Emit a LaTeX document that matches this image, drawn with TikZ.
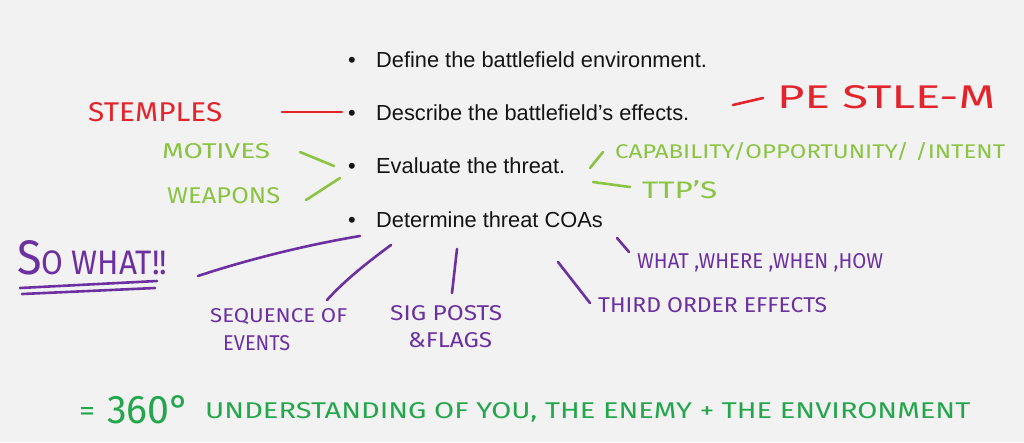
\documentclass[tikz,border=0pt]{standalone}
\usepackage{fontspec}
\usepackage{graphicx}
\setmainfont{Liberation Sans}
\newfontfamily\handfont{Fira Sans}
\definecolor{bg}{RGB}{242,242,242}
\definecolor{ink}{RGB}{20,20,20}
\definecolor{redink}{RGB}{226,36,44}
\definecolor{limeink}{RGB}{138,196,66}
\definecolor{purpink}{RGB}{108,48,160}
\definecolor{greenink}{RGB}{36,166,76}
\newcommand{\hw}[3]{\resizebox{#1pt}{#2pt}{\handfont\fontsize{20}{20}\selectfont #3}}
\tikzset{
  bullettext/.style={anchor=base west, inner sep=0pt, text=ink, font=\fontsize{21.8}{24}\selectfont},
  bulletdot/.style={anchor=base, inner sep=0pt, text=ink, font=\fontsize{21.8}{24}\selectfont},
  hand/.style={anchor=base west, inner sep=0pt},
  stroke/.style={line width=2.6pt, line cap=round, line join=round},
}
\begin{document}
\begin{tikzpicture}[x=1pt,y=-1pt]
\useasboundingbox (0,0) rectangle (1024,442);
\fill[bg] (0,0) rectangle (1024,442);

% bullet list
\node[bulletdot] (d1) at (352,67) {•};
\node[bullettext] (t1) at (376,67) {Define the battlefield environment.};
\node[bulletdot] (d2) at (352,120) {•};
\node[bullettext] (t2) at (376,120) {Describe the battlefield’s effects.};
\node[bulletdot] (d3) at (352,173) {•};
\node[bullettext] (t3) at (376,173) {Evaluate the threat.};
\node[bulletdot] (d4) at (352,227) {•};
\node[bullettext] (t4) at (376,227) {Determine threat COAs};

% red annotations
\node[hand, text=redink] (stemples) at (88,121) {\hw{134}{19}{STEMPLES}};
\node[hand, text=redink] (pestle) at (777,108) {\hw{218}{23}{PE STLE-M}};
\coordinate (r1a) at (282,112); \coordinate (r1b) at (342,112);
\draw[stroke, redink] (r1a) -- (r1b);
\coordinate (r2a) at (733,105); \coordinate (r2b) at (763,98);
\draw[stroke, redink] (r2a) -- (r2b);

% lime annotations
\node[hand, text=limeink] (motives) at (162,158) {\hw{108}{15}{MOTIVES}};
\node[hand, text=limeink] (weapons) at (167,203) {\hw{113}{16}{WEAPONS}};
\node[hand, text=limeink] (cap) at (615,158) {\hw{390}{16}{CAPABILITY/OPPORTUNITY/ /INTENT}};
\node[hand, text=limeink] (ttp) at (642,198) {\hw{75}{18}{TTP’S}};
\coordinate (g1a) at (300,152); \coordinate (g1b) at (334,166);
\draw[stroke, limeink] (g1a) -- (g1b);
\coordinate (g2a) at (306,200); \coordinate (g2b) at (340,178);
\draw[stroke, limeink] (g2a) -- (g2b);
\coordinate (g3a) at (590,168); \coordinate (g3b) at (603,152);
\draw[stroke, limeink] (g3a) -- (g3b);
\coordinate (g4a) at (593,182); \coordinate (g4b) at (630,187);
\draw[stroke, limeink] (g4a) -- (g4b);

% purple annotations
\node[hand, text=purpink] (sowhat) at (17,274) {\resizebox{150pt}{34pt}{\handfont{\fontsize{30}{30}\selectfont S}\fontsize{21}{21}\selectfont O WHAT!!}};
\coordinate (u1a) at (20,288); \coordinate (u1b) at (157,281);
\draw[stroke, purpink] (u1a) -- (u1b);
\coordinate (u2a) at (22,294); \coordinate (u2b) at (155,288);
\draw[stroke, purpink] (u2a) -- (u2b);
\coordinate (p1a) at (198,276); \coordinate (p1b) at (360,236);
\draw[stroke, purpink] (p1a) .. controls (240,262) and (300,246) .. (p1b);

\node[hand, text=purpink] (seq) at (210,322) {\hw{137}{14}{SEQUENCE OF}};
\node[hand, text=purpink] (events) at (223,350) {\hw{67}{15}{EVENTS}};
\coordinate (p2a) at (327,300); \coordinate (p2b) at (391,245);
\draw[stroke, purpink] (p2a) .. controls (345,280) and (368,262) .. (p2b);

\node[hand, text=purpink] (sig) at (390,320) {\hw{112}{15}{SIG POSTS}};
\node[hand, text=purpink] (flags) at (408,347) {\hw{84}{15}{\&FLAGS}};
\coordinate (p3a) at (452,293); \coordinate (p3b) at (457,249);
\draw[stroke, purpink] (p3a) -- (p3b);

\node[hand, text=purpink] (third) at (598,312) {\hw{229}{15}{THIRD ORDER EFFECTS}};
\coordinate (p4a) at (590,303); \coordinate (p4b) at (558,262);
\draw[stroke, purpink] (p4a) -- (p4b);

\node[hand, text=purpink] (what) at (637,268) {\hw{246}{15}{WHAT ,WHERE ,WHEN ,HOW}};
\coordinate (p5a) at (629,252); \coordinate (p5b) at (617,238);
\draw[stroke, purpink] (p5a) -- (p5b);

% bottom line
\node[anchor=base west, inner sep=0pt, text=greenink] (eq) at (79,420) {\resizebox{16pt}{13pt}{\handfont =}};
\node[hand, text=greenink] (deg) at (107,423) {\hw{83}{28}{360°}};
\node[hand, text=greenink] (under) at (205,418) {\hw{765}{16}{UNDERSTANDING OF YOU, THE ENEMY + THE ENVIRONMENT}};
\end{tikzpicture}
\end{document}
